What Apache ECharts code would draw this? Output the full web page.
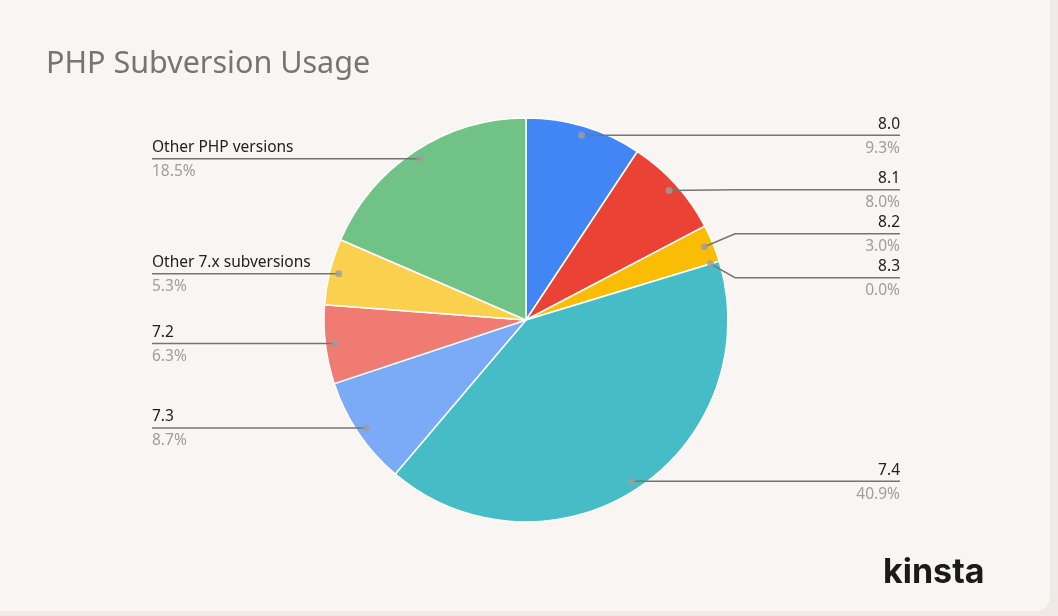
<!DOCTYPE html>
<html>
<head>
<meta charset="utf-8">
<script src="https://cdn.jsdelivr.net/npm/echarts@6/dist/echarts.min.js"></script>
<style>
html, body { margin: 0; padding: 0; background: #f0eae5; }
#main { width: 1050px; height: 611px; background: #f8f5f2; border-radius: 0 0 14px 0; }
</style>
</head>
<body>
<div id="main"></div>
<script>
// 数据
var versions = ['8.0', '8.1', '8.2', '8.3', '7.4', '7.3', '7.2', 'Other 7.x subversions', 'Other PHP versions'];
var shares = [9.3, 8.0, 3.0, 0.0, 40.9, 8.7, 6.3, 5.3, 18.5];
var sliceColors = ['#4285f4', '#ea4335', '#fbbc04', '#34a853', '#46bdc6', '#7baaf7', '#f07b72', '#fcd04f', '#71c287'];

// 布局
var cx = 526, cy = 320, R = 202;
var dotRatio = 0.955;
var labelLeft = 152, labelRight = 900;
var labelGap = 44;

var total = shares.reduce(function (a, b) { return a + b; }, 0);

// 每个扇区中点（百分比位置）和圆点坐标
var mids = [];
var dots = [];
var acc = 0;
shares.forEach(function (v) {
    var m = (acc + v / 2) / total;
    acc += v;
    mids.push(m * 100);
    var a = m * Math.PI * 2;
    dots.push({
        x: cx + R * dotRatio * Math.sin(a),
        y: cy - R * dotRatio * Math.cos(a),
        side: m < 0.5 ? 1 : -1
    });
});

// 标签纵向避让：同侧按 y 排序，重叠的合并成一组居中
function resolveSide(side) {
    var idx = [];
    dots.forEach(function (d, i) { if (d.side === side) idx.push(i); });
    idx.sort(function (a, b) { return dots[a].y - dots[b].y; });
    var groups = [];
    idx.forEach(function (i) {
        groups.push({ items: [i], sum: dots[i].y });
        while (groups.length > 1) {
            var g = groups[groups.length - 1], p = groups[groups.length - 2];
            var gTop = g.sum / g.items.length - (g.items.length - 1) * labelGap / 2;
            var pBot = p.sum / p.items.length + (p.items.length - 1) * labelGap / 2;
            if (gTop - pBot >= labelGap) break;
            groups.pop();
            p.items = p.items.concat(g.items);
            p.sum += g.sum;
        }
    });
    var out = {};
    groups.forEach(function (g) {
        var start = g.sum / g.items.length - (g.items.length - 1) * labelGap / 2;
        g.items.forEach(function (i, k) { out[i] = start + k * labelGap; });
    });
    return out;
}
var labelY = Object.assign({}, resolveSide(1), resolveSide(-1));

var pieData = versions.map(function (name, i) {
    return { name: name, value: shares[i], itemStyle: { color: sliceColors[i] } };
});

var myChart = echarts.init(document.getElementById('main'));

var option = {
    backgroundColor: 'transparent',
    title: {
        text: 'PHP Subversion Usage',
        left: 41,
        top: 44,
        textStyle: {
            color: '#757575',
            fontSize: 30.5,
            fontWeight: 'normal',
            fontFamily: 'Noto Sans'
        }
    },
    polar: { center: [cx, cy], radius: R },
    angleAxis: { type: 'value', min: 0, max: 100, startAngle: 90, clockwise: true, show: false },
    radiusAxis: { type: 'value', min: 0, max: 1, show: false },
    graphic: [{
        type: 'text',
        left: 883,
        top: 556,
        style: {
            text: 'kinsta',
            fill: '#1b1b1b',
            font: 'bold 34px Inter'
        }
    }],
    series: [{
        // 扇区
        type: 'pie',
        center: [cx, cy],
        radius: R,
        startAngle: 90,
        clockwise: true,
        animation: false,
        silent: true,
        itemStyle: { borderColor: '#ffffff', borderWidth: 1.5 },
        label: { show: false },
        labelLine: { show: false },
        data: pieData
    }, {
        // 透明的一层，只负责标签和引导线，画在扇区上面
        type: 'pie',
        z: 3,
        center: [cx, cy],
        radius: R,
        startAngle: 90,
        clockwise: true,
        avoidLabelOverlap: false,
        animation: false,
        silent: true,
        itemStyle: { color: 'rgba(0,0,0,0)', borderWidth: 0 },
        label: {
            show: true,
            formatter: function (p) {
                return '{n|' + p.name + '}\n{p|' + p.value.toFixed(1) + '%}';
            },
            rich: {
                n: { fontSize: 15.5, color: '#212121', lineHeight: 24, fontFamily: 'Noto Sans' },
                p: { fontSize: 15.5, color: '#9e9e9e', lineHeight: 24, fontFamily: 'Noto Sans' }
            }
        },
        labelLine: {
            show: true,
            smooth: false,
            lineStyle: { color: '#757575', width: 1.5 }
        },
        labelLayout: function (params) {
            var i = params.dataIndex;
            var d = dots[i];
            var ly = labelY[i];
            var right = d.side > 0;
            var elbowX = cx + (right ? 1 : -1) * (R + 7);
            var endX = right ? labelRight : labelLeft;
            return {
                x: endX,
                y: ly + 1,
                align: right ? 'right' : 'left',
                verticalAlign: 'middle',
                labelLinePoints: [[d.x, d.y], [elbowX, ly], [endX, ly]]
            };
        },
        data: versions.map(function (name, i) {
            return { name: name, value: shares[i] };
        })
    }, {
        type: 'scatter',
        coordinateSystem: 'polar',
        symbolSize: 7,
        silent: true,
        animation: false,
        z: 5,
        itemStyle: { color: '#9e9e9e' },
        data: mids.map(function (m) { return [dotRatio, m]; })
    }]
};
myChart.setOption(option);

window.addEventListener('resize', function () {
    myChart.resize();
});
</script>
</body>
</html>
